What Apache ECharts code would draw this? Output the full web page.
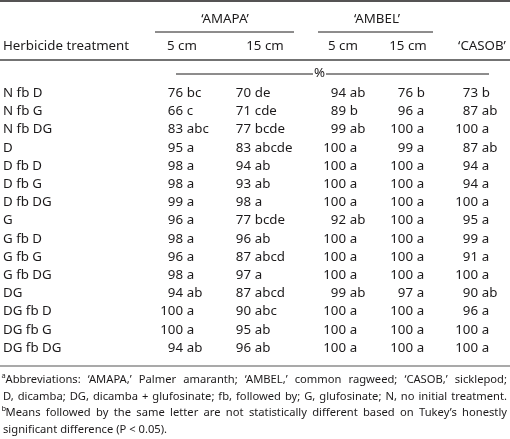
<!DOCTYPE html>
<html><head><meta charset="utf-8">
<script src="https://cdn.jsdelivr.net/npm/echarts@6/dist/echarts.min.js"></script>
<style>html,body{margin:0;padding:0;background:#fff}#c{width:510px;height:439px}</style>
</head><body><div id="c"></div>
<script>
const treatments = ['N fb D','N fb G','N fb DG','D','D fb D','D fb G','D fb DG','G','G fb D','G fb G','G fb DG','DG','DG fb D','DG fb G','DG fb DG'];
const amapa5Values  = [76,66,83,95,98,98,99,96,98,96,98,94,100,100,94];
const amapa5Letters = ['bc','c','abc','a','a','a','a','a','a','a','a','ab','a','a','ab'];
const amapa15Values  = [70,71,77,83,94,93,98,77,96,87,97,87,90,95,96];
const amapa15Letters = ['de','cde','bcde','abcde','ab','ab','a','bcde','ab','abcd','a','abcd','abc','ab','ab'];
const ambel5Values  = [94,89,99,100,100,100,100,92,100,100,100,99,100,100,100];
const ambel5Letters = ['ab','b','ab','a','a','a','a','ab','a','a','a','ab','a','a','a'];
const ambel15Values  = [76,96,100,99,100,100,100,100,100,100,100,97,100,100,100];
const ambel15Letters = ['b','a','a','a','a','a','a','a','a','a','a','a','a','a','a'];
const casobValues  = [73,87,100,87,94,94,100,95,99,91,100,90,96,100,100];
const casobLetters = ['b','ab','a','ab','a','a','a','a','a','a','a','ab','a','a','a'];

const groupHeaders = ["‘AMAPA’", "‘AMBEL’"];
const columnHeaders = ['5 cm','15 cm','5 cm','15 cm',"‘CASOB’"];
const rowHeader = 'Herbicide treatment';
const unitLabel = '%';
const footnotes = [
  ['a', "Abbreviations: ‘AMAPA,’ Palmer amaranth; ‘AMBEL,’ common ragweed; ‘CASOB,’ sicklepod;"],
  ['', "D, dicamba; DG, dicamba + glufosinate; fb, followed by; G, glufosinate; N, no initial treatment."],
  ['b', "Means followed by the same letter are not statistically different based on Tukey’s honestly"],
  ['', "significant difference (P < 0.05)."]
];

const columns = [
  [amapa5Values, amapa5Letters],
  [amapa15Values, amapa15Letters],
  [ambel5Values, ambel5Letters],
  [ambel15Values, ambel15Letters],
  [casobValues, casobLetters]
];

// layout (pixels)
const COL_ANCHOR = [183, 251, 346, 413, 478];
const HEADER_X = [182, 265, 343, 408, 482];
const FONT = '"Noto Sans", sans-serif';
const INK = '#1c1a1b';
const FS = 13.3;
const FOOT_FS = 11.2;

const data = [];
columns.forEach((col, c) => {
  col[0].forEach((v, r) => data.push([c, r, v, col[1][r]]));
});

const chart = echarts.init(document.getElementById('c'), null, {renderer: 'canvas'});
const measureCtx = document.createElement('canvas').getContext('2d');

const graphics = [];
function line(x1, y1, x2, y2, w, color) {
  graphics.push({type: 'line', silent: true, shape: {x1, y1, x2, y2}, style: {stroke: color || INK, lineWidth: w}});
}
function text(t, x, y, align, size, extra) {
  graphics.push({type: 'text', silent: true, x, y, style: Object.assign({text: t, fill: INK, font: size + 'px ' + FONT, textAlign: align, textVerticalAlign: 'middle'}, extra || {})});
}
function justified(str, x0, x1, y, size, justify) {
  const font = size + 'px ' + FONT;
  measureCtx.font = font;
  const words = str.split(' ');
  const widths = words.map(w => measureCtx.measureText(w).width);
  const total = widths.reduce((a, b) => a + b, 0);
  const space = measureCtx.measureText(' ').width;
  const gap = justify && words.length > 1 ? (x1 - x0 - total) / (words.length - 1) : space;
  let x = x0;
  words.forEach((w, i) => { text(w, x, y, 'left', size); x += widths[i] + gap; });
}
line(0, 1, 510, 1, 1.6);
text(groupHeaders[0], 225, 19, 'center', FS);
text(groupHeaders[1], 377, 19, 'center', FS);
line(155, 32, 294, 32, 1);
line(318, 32, 433, 32, 1);
text(rowHeader, 3, 46, 'left', FS);
columnHeaders.forEach((h, i) => text(h, HEADER_X[i], 46, 'center', FS));
line(0, 60, 510, 60, 1.5, '#444');
line(176, 74, 313, 74, 1);
text(unitLabel, 319.5, 73, 'center', FS);
line(326, 74, 489, 74, 1);
line(0, 366, 510, 366, 1.2, '#555');
const FOOT_Y = [380, 397, 413, 430];
footnotes.forEach((f, i) => {
  if (f[0]) text(f[0], 1.5, FOOT_Y[i] - 4, 'left', 7.5);
  justified(f[1], f[0] ? 5.5 : 3, 507, FOOT_Y[i], FOOT_FS, i < footnotes.length - 1);
});

chart.setOption({
  animation: false,
  grid: {left: 0, right: 0, top: 84.2, bottom: 81.8},
  xAxis: {type: 'value', min: 0, max: 510, show: false},
  yAxis: {
    type: 'category', data: treatments, inverse: true,
    axisLine: {show: false}, axisTick: {show: false}, splitLine: {show: false},
    axisLabel: {inside: true, align: 'left', margin: 3, color: INK, fontFamily: FONT, fontSize: FS}
  },
  graphic: graphics,
  series: [{
    type: 'custom',
    data: data,
    encode: {x: 0, y: 1},
    renderItem: function (params, api) {
      const c = api.value(0);
      const p = api.coord([COL_ANCHOR[c], api.value(1)]);
      return {
        type: 'group',
        children: [
          {type: 'text', x: p[0], y: p[1], style: {text: String(api.value(2)), fill: INK, font: FS + 'px ' + FONT, textAlign: 'right', textVerticalAlign: 'middle'}},
          {type: 'text', x: p[0] + 3.8, y: p[1], style: {text: data[params.dataIndex][3], fill: INK, font: FS + 'px ' + FONT, textAlign: 'left', textVerticalAlign: 'middle'}}
        ]
      };
    }
  }]
});
</script></body></html>
